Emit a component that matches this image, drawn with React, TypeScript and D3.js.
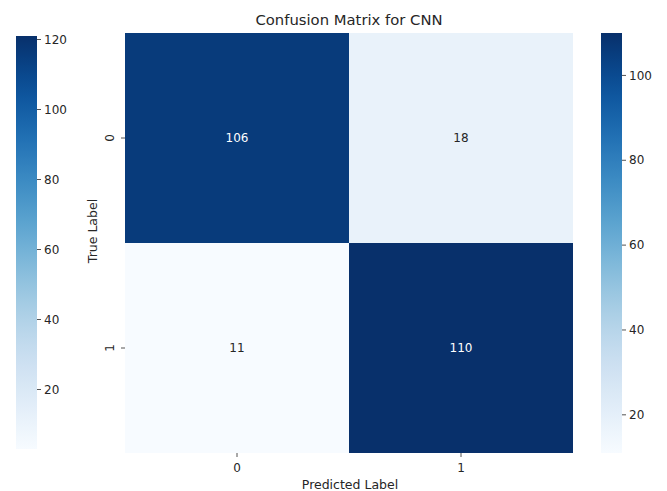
import React from "react";
import * as d3 from "d3";

const trueLabels = ["0", "1"];
const predLabels = ["0", "1"];
const matrix = [
  [106, 18],
  [11, 110],
];
const leftBarTicks = [20, 40, 60, 80, 100, 120];
const leftBarDomain = [3, 121];
const rightBarTicks = [20, 40, 60, 80, 100];
const rightBarDomain = [11, 110];
const title = "Confusion Matrix for CNN";
const xTitle = "Predicted Label";
const yTitle = "True Label";

const W = 667;
const H = 491;
const hm = { x0: 125, x1: 573, y0: 33, y1: 453 };
const lb = { x0: 16, x1: 37, y0: 36, y1: 449 };
const rb = { x0: 601, x1: 622, y0: 33, y1: 453 };
const font = "DejaVu Sans, sans-serif";
const textColor = "#262626";

export default function App() {
  const x = d3.scaleBand().domain(predLabels).range([hm.x0, hm.x1]);
  const y = d3.scaleBand().domain(trueLabels).range([hm.y0, hm.y1]);
  const color = d3
    .scaleSequential(d3.interpolateBlues)
    .domain(rightBarDomain as [number, number]);
  const lY = d3.scaleLinear().domain(leftBarDomain).range([lb.y1, lb.y0]);
  const rY = d3.scaleLinear().domain(rightBarDomain).range([rb.y1, rb.y0]);
  const stops = d3.range(0, 1.0001, 0.05);

  return (
    <svg
      width={W}
      height={H}
      style={{ position: "absolute", left: 0, top: 0, background: "#fff" }}
      fontFamily={font}
    >
      <defs>
        <linearGradient id="blues" x1="0" y1="1" x2="0" y2="0">
          {stops.map((t) => (
            <stop key={t} offset={t} stopColor={d3.interpolateBlues(t)} />
          ))}
        </linearGradient>
      </defs>
      <text x={349} y={25} textAnchor="middle" fontSize={14.8} fill={textColor}>
        {title}
      </text>
      {matrix.map((row, i) =>
        row.map((v, j) => {
          const cx = x(predLabels[j])!;
          const cy = y(trueLabels[i])!;
          const t = (v - rightBarDomain[0]) / (rightBarDomain[1] - rightBarDomain[0]);
          return (
            <g key={`${i}-${j}`}>
              <rect
                x={cx}
                y={cy}
                width={x.bandwidth()}
                height={y.bandwidth()}
                fill={color(v)}
              />
              <text
                x={cx + x.bandwidth() / 2}
                y={cy + y.bandwidth() / 2}
                dy="0.36em"
                textAnchor="middle"
                fontSize={12}
                fill={t > 0.5 ? "#ffffff" : textColor}
              >
                {v}
              </text>
            </g>
          );
        })
      )}
      {/* x ticks */}
      {predLabels.map((p) => {
        const cx = x(p)! + x.bandwidth() / 2;
        return (
          <g key={"x" + p}>
            <line x1={cx} x2={cx} y1={hm.y1} y2={hm.y1 + 4} stroke={textColor} strokeWidth={0.8} />
            <text x={cx} y={hm.y1 + 19} textAnchor="middle" fontSize={12} fill={textColor}>
              {p}
            </text>
          </g>
        );
      })}
      <text x={350} y={489} textAnchor="middle" fontSize={12.5} fill={textColor}>
        {xTitle}
      </text>
      {/* y ticks */}
      {trueLabels.map((p) => {
        const cy = y(p)! + y.bandwidth() / 2;
        return (
          <g key={"y" + p}>
            <line x1={hm.x0 - 4} x2={hm.x0} y1={cy} y2={cy} stroke={textColor} strokeWidth={0.8} />
            <text
              transform={`translate(${hm.x0 - 11},${cy}) rotate(-90)`}
              textAnchor="middle"
              fontSize={12}
              fill={textColor}
            >
              {p}
            </text>
          </g>
        );
      })}
      <text
        transform={`translate(97,231) rotate(-90)`}
        textAnchor="middle"
        fontSize={12.5}
        fill={textColor}
      >
        {yTitle}
      </text>
      {/* left colorbar */}
      <rect x={lb.x0} y={lb.y0} width={lb.x1 - lb.x0} height={lb.y1 - lb.y0} fill="url(#blues)" />
      {leftBarTicks.map((t) => (
        <g key={"l" + t}>
          <line x1={lb.x1} x2={lb.x1 + 4} y1={lY(t)} y2={lY(t)} stroke={textColor} strokeWidth={0.8} />
          <text x={lb.x1 + 7} y={lY(t)} dy="0.35em" fontSize={12} fill={textColor}>
            {t}
          </text>
        </g>
      ))}
      {/* right colorbar */}
      <rect x={rb.x0} y={rb.y0} width={rb.x1 - rb.x0} height={rb.y1 - rb.y0} fill="url(#blues)" />
      {rightBarTicks.map((t) => (
        <g key={"r" + t}>
          <line x1={rb.x1} x2={rb.x1 + 4} y1={rY(t)} y2={rY(t)} stroke={textColor} strokeWidth={0.8} />
          <text x={rb.x1 + 7} y={rY(t)} dy="0.35em" fontSize={12} fill={textColor}>
            {t}
          </text>
        </g>
      ))}
    </svg>
  );
}
